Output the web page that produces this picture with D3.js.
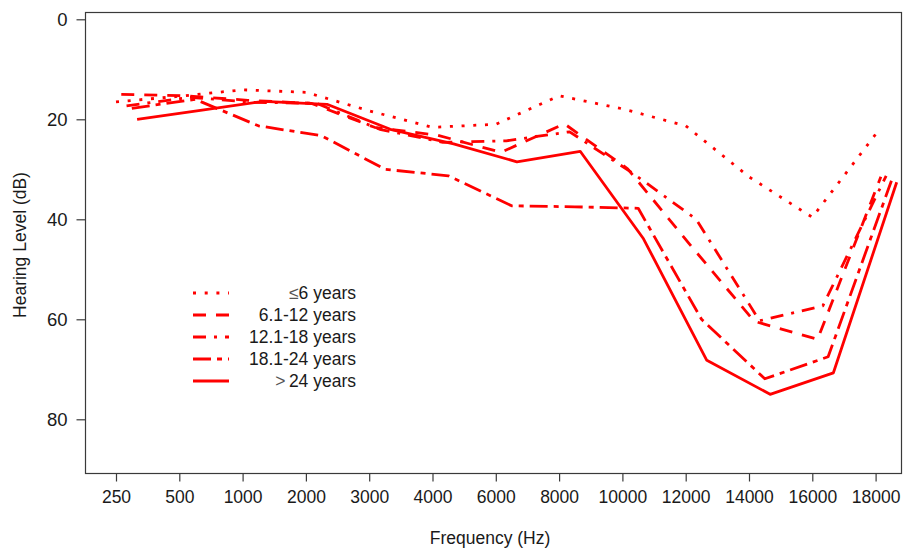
<!DOCTYPE html>
<html><head><meta charset="utf-8">
<script src="https://cdn.jsdelivr.net/npm/d3@7"></script>
<style>body{margin:0;background:#fff}svg{display:block}</style>
</head><body><svg id="c" width="904" height="552"></svg>
<script>
// ---- data ----
const categories = ["250","500","1000","2000","3000","4000","6000","8000","10000","12000","14000","16000","18000"];
const yTicks = [0, 20, 40, 60, 80];
const groupLabels = ["≤6 years", "6.1-12 years", "12.1-18 years", "18.1-24 years", ">24 years"];
const upTo6  = [16.5, 15.4, 14.1, 14.6, 18.3, 21.6, 21.0, 15.3, 17.9, 21.3, 31.5, 39.6, 23.0];
const y6to12  = [15.0, 15.3, 16.2, 16.8, 21.6, 23.2, 26.6, 20.9, 29.9, 45.3, 60.4, 64.0, 31.5];
const y12to18 = [17.3, 15.6, 16.6, 16.8, 22.0, 24.6, 24.3, 22.5, 30.8, 40.0, 60.3, 57.3, 31.3];
const y18to24 = [17.8, 16.0, 21.3, 23.3, 30.0, 31.3, 37.3, 37.5, 37.8, 60.0, 71.9, 67.5, 32.3];
const over24  = [20.0, 18.2, 16.4, 17.0, 22.0, 24.9, 28.5, 26.4, 43.9, 68.2, 75.0, 70.7, 32.6];
const seriesValues = [upTo6, y6to12, y12to18, y18to24, over24];

// ---- styles ----
const dashes = ["3,8.7", "13,10", "13,8,3,8", "18,6,5,6", null];
const red = "#ff0000";
const lw = 2.8;
const axisColor = "#3a3a3a";
const textColor = "#1a1a1a";
const font = "'Liberation Sans', Arial, sans-serif";

const svg = d3.select("#c");
const box = {l: 85.5, r: 901.5, t: 12.5, b: 473.5};

const x = d3.scalePoint().domain(categories).range([116, 875.6]);
const y = d3.scaleLinear().domain([0, 80]).range([19.3, 419.3]);
const shift = i => i * x.step() / 12;

// frame
svg.append("rect")
  .attr("x", box.l).attr("y", box.t)
  .attr("width", box.r - box.l).attr("height", box.b - box.t)
  .attr("fill", "none").attr("stroke", axisColor).attr("stroke-width", 1.2);

// y axis
const gy = svg.append("g").attr("transform", `translate(${box.l},0)`)
  .call(d3.axisLeft(y).tickValues(yTicks).tickSize(9).tickPadding(9).tickFormat(d3.format("d")));
gy.select(".domain").remove();
gy.selectAll(".tick line").attr("stroke", axisColor).attr("stroke-width", 1.2);
gy.selectAll(".tick text").attr("fill", textColor).style("font-family", font).style("font-size", "18.5px");

// x axis
const gx = svg.append("g").attr("transform", `translate(0,${box.b})`)
  .call(d3.axisBottom(x).tickSize(8).tickPadding(9));
gx.select(".domain").remove();
gx.selectAll(".tick line").attr("stroke", axisColor).attr("stroke-width", 1.2);
gx.selectAll(".tick text").attr("fill", textColor).style("font-family", font).style("font-size", "17.5px");

// titles
svg.append("text").attr("x", 490).attr("y", 544)
  .attr("text-anchor", "middle").attr("fill", textColor)
  .style("font-family", font).style("font-size", "17.5px").text("Frequency (Hz)");
svg.append("text").attr("transform", `translate(26,${(box.t + box.b) / 2 + 2}) rotate(-90)`)
  .attr("text-anchor", "middle").attr("fill", textColor)
  .style("font-family", font).style("font-size", "17.5px").text("Hearing Level (dB)");

// lines
const line = d3.line().curve(d3.curveLinear);
seriesValues.forEach((vals, i) => {
  const pts = vals.map((v, j) => [x(categories[j]) + shift(i), y(v)]);
  const p = svg.append("path").attr("d", line(pts))
    .attr("fill", "none").attr("stroke", red).attr("stroke-width", lw)
    .attr("stroke-linejoin", "round").attr("stroke-linecap", "butt");
  if (dashes[i]) p.attr("stroke-dasharray", dashes[i]);
});

// legend
const lg = svg.append("g");
groupLabels.forEach((lab, i) => {
  const yy = 293 + i * 22;
  const l = lg.append("line").attr("x1", 193).attr("x2", 229).attr("y1", yy).attr("y2", yy)
    .attr("stroke", red).attr("stroke-width", lw).attr("stroke-linecap", "butt");
  if (dashes[i]) l.attr("stroke-dasharray", dashes[i]);
  const t = lg.append("text").attr("x", 356).attr("y", yy + 6)
    .attr("text-anchor", "end").attr("fill", textColor)
    .style("font-family", font).style("font-size", "17.5px");
  const sym = lab[0];
  if (sym === "≤" || sym === ">") {
    t.append("tspan").attr("fill", "#555").text(sym + (sym === ">" ? "\u2009" : ""));
    t.append("tspan").text(lab.slice(1));
  } else {
    t.text(lab);
  }
});
</script></body></html>
